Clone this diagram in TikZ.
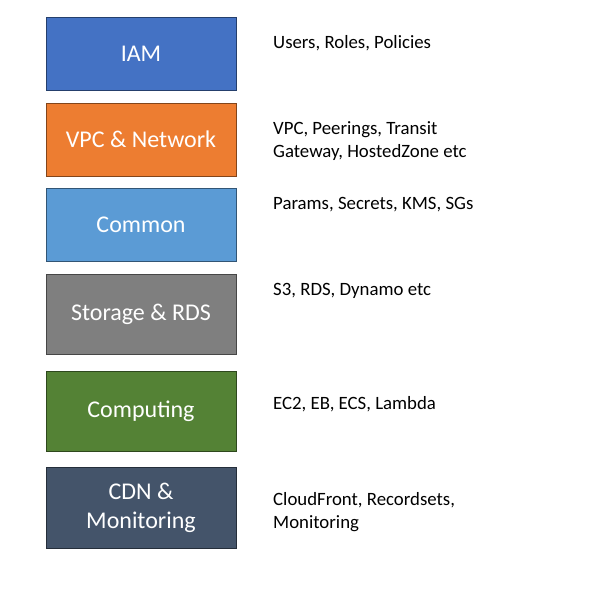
\documentclass[tikz,border=0pt]{standalone}
\usepackage{fontspec}
\setmainfont{Carlito}
\usepackage{xcolor}
\usetikzlibrary{positioning}

\definecolor{iamblue}{HTML}{4472C4}
\definecolor{vpcorange}{HTML}{ED7D31}
\definecolor{commonblue}{HTML}{5B9BD5}
\definecolor{storagegray}{HTML}{7F7F7F}
\definecolor{computegreen}{HTML}{548235}
\definecolor{cdnslate}{HTML}{44546A}

\tikzset{
	layer/.style={draw=#1!55!black, fill=#1, line width=0.9pt, minimum width=190pt,
		text=white, align=center, font=\fontsize{24}{29}\selectfont, inner sep=0pt},
	note/.style={anchor=west, align=left, inner sep=0pt, font=\fontsize{18.8}{23}\selectfont}
}

\begin{document}
\begin{tikzpicture}[x=1pt,y=-1pt]
	\useasboundingbox (0,0) rectangle (590,600);
	% layers
	\node[layer=iamblue, minimum height=73pt] (iam) at (141,54) {IAM};
	\node[layer=vpcorange, minimum height=73pt] (vpc) at (141,139.5) {VPC \& Network};
	\node[layer=commonblue, minimum height=73pt] (common) at (141,224.5) {Common};
	\node[layer=storagegray, minimum height=80pt] (storage) at (141,314) {Storage \& RDS};
	\node[layer=computegreen, minimum height=80pt] (computing) at (141,411) {Computing};
	\node[layer=cdnslate, minimum height=81pt] (cdn) at (141,507.5) {CDN \&\\Monitoring};
	% what each layer holds
	\node[note] (iamnote) at (273,43.5) {Users, Roles, Policies};
	\node[note] (vpcnote) at (273,141.5) {VPC, Peerings, Transit\\Gateway, HostedZone etc};
	\node[note] (commonnote) at (273,204.5) {Params, Secrets, KMS, SGs};
	\node[note] (storagenote) at (273,290.5) {S3, RDS, Dynamo etc};
	\node[note] (computingnote) at (273,404.5) {EC2, EB, ECS, Lambda};
	\node[note] (cdnnote) at (273,512.5) {CloudFront, Recordsets,\\Monitoring};
\end{tikzpicture}
\end{document}
